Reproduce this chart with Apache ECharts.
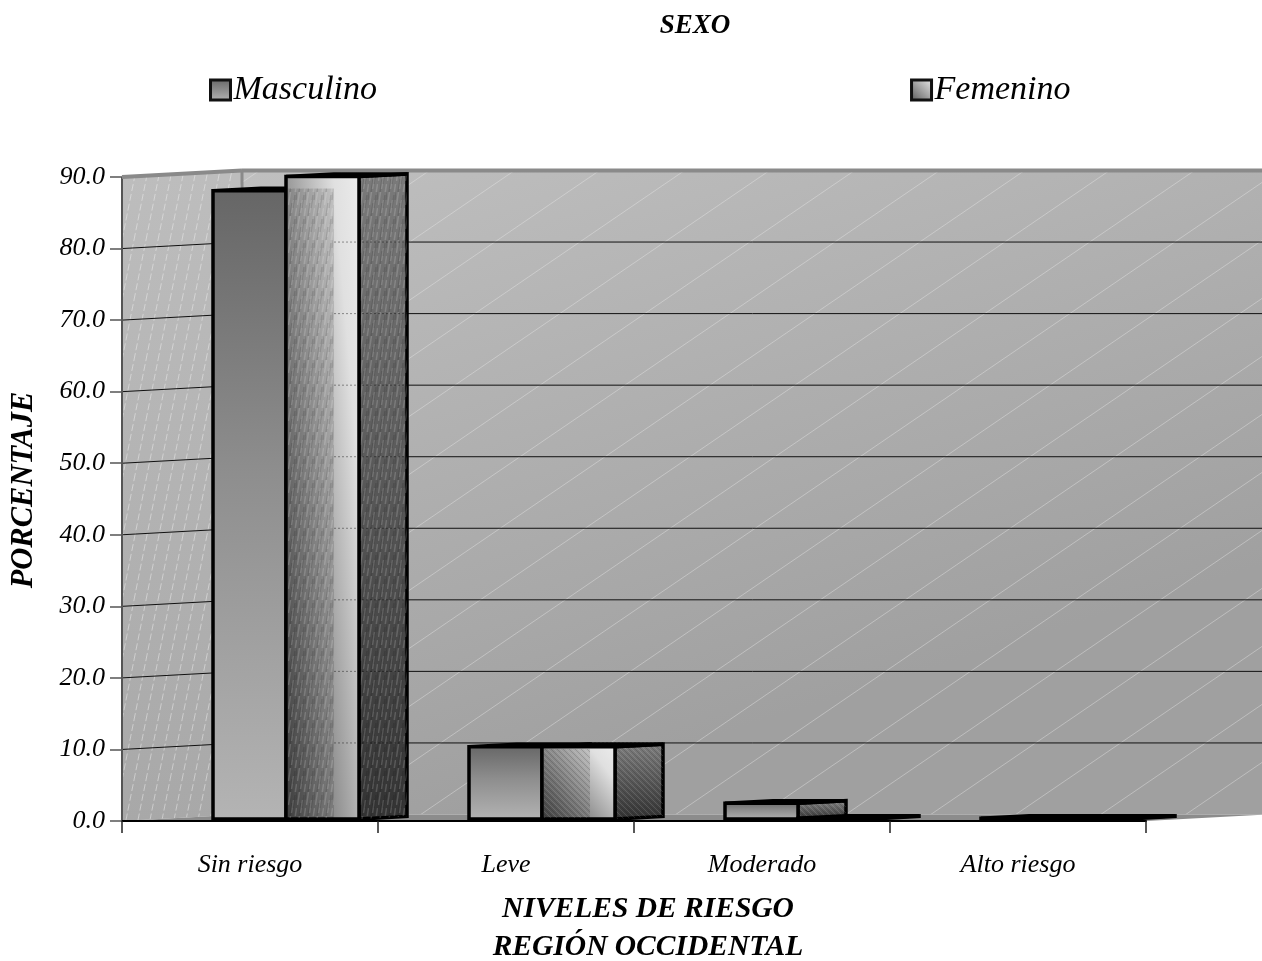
<!DOCTYPE html>
<html>
<head>
<meta charset="utf-8">
<style>html,body{margin:0;padding:0;background:#fff;overflow:hidden}#chart{width:1262px;height:961px}</style>
<script src="https://cdn.jsdelivr.net/npm/echarts@6/dist/echarts.min.js"></script>
</head>
<body>
<div id="chart"></div>
<script>
// Risk levels by sex, drawn as pseudo-3D clustered columns on a walled stage.
const categories = ['Sin riesgo', 'Leve', 'Moderado', 'Alto riesgo'];
const masculino = [87.8, 10.1, 2.2, 0.1];
const femenino = [89.8, 10.1, 0.1, 0.1];
const yTicks = [0, 10, 20, 30, 40, 50, 60, 70, 80, 90];

const FONT = '"Liberation Serif", "Times New Roman", serif';
// Oblique projection of the stage depth, in pixels.
const DEPTH_X = 120, DEPTH_Y = -6.5;
const BAR_DEPTH = 0.4, BAR_FRONT = 0.3, BAR_WIDTH = 73 / 256;

function tile(w, h, draw) {
  const c = document.createElement('canvas');
  c.width = w; c.height = h;
  draw(c.getContext('2d'));
  return { image: c, repeat: 'repeat' };
}
// Fine diagonal rules on the back wall.
const backRules = tile(85, 58, g => {
  g.strokeStyle = 'rgba(235,235,235,0.4)';
  g.lineWidth = 1;
  for (let k = -1; k <= 1; k++) {
    g.beginPath();
    g.moveTo(k * 85 + 80 - 85, 3 + 58);
    g.lineTo(k * 85 + 80 + 85, 3 - 58);
    g.stroke();
  }
});
// Steep broken rules on the side wall.
const sideRules = tile(12, 60, g => {
  g.strokeStyle = 'rgba(240,240,240,0.5)';
  g.lineWidth = 1;
  g.setLineDash([7, 3]);
  for (let k = -1; k <= 1; k++) {
    g.beginPath();
    g.moveTo(k * 12 + 2, 60);
    g.lineTo(k * 12 + 14, 0);
    g.stroke();
  }
});
// Woven grain used on tall faces.
const tallGrain = tile(9, 24, g => {
  g.lineWidth = 1.5;
  for (let i = 0; i < 3; i++) {
    g.strokeStyle = 'rgba(255,255,255,0.16)';
    g.beginPath(); g.moveTo(i * 3 + 0.5, 13 + (i * 8) % 24); g.lineTo(i * 3 + 2.5, (i * 8) % 24); g.stroke();
    g.strokeStyle = 'rgba(0,0,0,0.12)';
    g.beginPath(); g.moveTo(i * 3 + 2, 24 - (i * 8) % 24); g.lineTo(i * 3 + 4, 11 - (i * 8) % 24 + 0); g.stroke();
  }
});
// Diagonal hatch used on short faces.
const shortGrain = tile(6, 6, g => {
  g.lineWidth = 1;
  g.strokeStyle = 'rgba(0,0,0,0.14)';
  for (let k = -1; k <= 1; k++) {
    g.beginPath(); g.moveTo(k * 6, 0); g.lineTo(k * 6 + 6, 6); g.stroke();
  }
  g.strokeStyle = 'rgba(255,255,255,0.12)';
  for (let k = -1; k <= 1; k++) {
    g.beginPath(); g.moveTo(k * 6 + 3, 0); g.lineTo(k * 6 + 9, 6); g.stroke();
  }
});

const gray = v => { const c = Math.round(v * 255); return `rgb(${c},${c},${c})`; };
const linear = (x, y, x2, y2, stops, global) =>
  new echarts.graphic.LinearGradient(x, y, x2, y2, stops.map(s => ({ offset: s[0], color: s[1] })), global);

const mascFill = linear(0, 0, 0, 1, [[0, '#666'], [0.45, '#8e8e8e'], [1, '#b4b4b4']]);

// Gradient running from the lower left corner to the upper right one.
function femFill(x, y, w, h) {
  const a = 0.27, b = 0.5, c = 0.38;
  const dx = b / w, dy = c / Math.max(h, 1);
  const span = (b + c) / (dx * dx + dy * dy);
  return linear(x, y + h, x + dx * span, y + h - dy * span,
    [[0, gray(a)], [0.8, gray(0.88)], [1, gray(0.92)]], true);
}

// Back wall, side wall, floor and the rules that run across them.
function renderStage(params, api) {
  const grid = params.coordSys;
  const L = grid.x, R = grid.x + grid.width;
  const y0 = api.coord([0, 0])[1], yT = api.coord([0, 90])[1];
  const BL = L + DEPTH_X, BR = R + DEPTH_X;
  const children = [];
  const poly = (points, fill) => ({ type: 'polygon', shape: { points }, style: { fill } });
  const line = (x1, y1, x2, y2, stroke, lineWidth) => ({
    type: 'line', shape: { x1, y1, x2, y2 }, style: { stroke, lineWidth, fill: null }
  });
  const back = [[BL, yT + DEPTH_Y], [BR, yT + DEPTH_Y], [BR, y0 + DEPTH_Y], [BL, y0 + DEPTH_Y]];
  const side = [[L, yT], [BL, yT + DEPTH_Y], [BL, y0 + DEPTH_Y], [L, y0]];
  children.push(poly(back, linear(BL, yT, BL + 200, y0, [[0, '#bfbfbf'], [1, '#a0a0a0']], true)));
  children.push(poly(back, backRules));
  children.push(poly(side, linear(0, yT, 0, y0, [[0, '#bdbdbd'], [1, '#a8a8a8']], true)));
  children.push(poly(side, sideRules));
  children.push(poly([[L, y0], [BL, y0 + DEPTH_Y], [BR, y0 + DEPTH_Y], [R, y0]], '#8c8c8c'));
  yTicks.forEach(t => {
    if (t === 0 || t === 90) return;
    const y = api.coord([0, t])[1];
    children.push(line(L, y, BL, y + DEPTH_Y, '#111', 1));
    children.push(line(BL, y + DEPTH_Y, BR, y + DEPTH_Y, '#111', 1));
  });
  children.push(line(L, y0, L, yT, '#555', 2));
  children.push(line(BL, y0 + DEPTH_Y, BL, yT + DEPTH_Y, '#8a8a8a', 3));
  children.push(line(L, yT, BL, yT + DEPTH_Y, '#8a8a8a', 4));
  children.push(line(BL, yT + DEPTH_Y, BR, yT + DEPTH_Y, '#8a8a8a', 4));
  return { type: 'group', children, silent: true };
}

// One column: side and top faces, then the front face, offset inside its cluster.
function columnRenderer(slot, isFem) {
  return function (params, api) {
    const i = api.value(0), value = api.value(1);
    const top = api.coord([i, value]), base = api.coord([i, 0]);
    const band = api.size([1, 0])[0];
    const w = band * BAR_WIDTH;
    const fx = DEPTH_X * BAR_FRONT, fy = DEPTH_Y * BAR_FRONT;
    const dx = DEPTH_X * BAR_DEPTH, dy = DEPTH_Y * BAR_DEPTH;
    const x = top[0] + fx + slot * w;
    const yTop = top[1] + fy, yBase = base[1] + fy;
    const h = yBase - yTop;
    const edge = { stroke: '#000', lineWidth: 3.5, lineJoin: 'miter' };
    const sidePts = [[x + w, yTop], [x + w + dx, yTop + dy], [x + w + dx, yBase + dy], [x + w, yBase]];
    const grain = h > 200 ? tallGrain : shortGrain;
    const children = [];
    children.push({
      type: 'polygon', shape: { points: sidePts },
      style: Object.assign({
        fill: linear(0, yTop, 0, yBase, [[0, '#7a7a7a'], [1, '#333']], true)
      }, edge)
    });
    children.push({ type: 'polygon', shape: { points: sidePts }, style: { fill: grain } });
    children.push({
      type: 'polygon',
      shape: { points: [[x, yTop], [x + w, yTop], [x + w + dx, yTop + dy], [x + dx, yTop + dy]] },
      style: Object.assign({ fill: '#000' }, edge)
    });
    children.push({
      type: 'rect', shape: { x, y: yTop, width: w, height: h },
      style: Object.assign({ fill: isFem ? femFill(x, yTop, w, h) : mascFill }, edge)
    });
    if (isFem) {
      if (h > 10) {
        const inset = h * 0.017;
        const overlay = { x: x + 2, y: yTop + inset + 1, width: dx - 2, height: h - inset - 2 };
        children.push({ type: 'rect', shape: overlay, style: { fill: 'rgba(0,0,0,0.13)' } });
        children.push({ type: 'rect', shape: overlay, style: { fill: grain } });
      }
      // Wall rules faintly showing through the column.
      yTicks.forEach(t => {
        if (t <= 0 || t >= value) return;
        const y = api.coord([i, t])[1] + DEPTH_Y;
        children.push({
          type: 'line', shape: { x1: x + dx, y1: y, x2: x + w + dx, y2: y },
          style: { stroke: 'rgba(0,0,0,0.4)', lineWidth: 1, lineDash: [2, 2], fill: null }
        });
      });
    }
    return { type: 'group', children };
  };
}

const chart = echarts.init(document.getElementById('chart'), null, { renderer: 'canvas' });
chart.setOption({
  animation: false,
  backgroundColor: '#fff',
  textStyle: { fontFamily: FONT },
  title: {
    text: 'SEXO', left: 690, top: 8, textAlign: 'center',
    textStyle: { fontFamily: FONT, fontSize: 27, fontStyle: 'italic', fontWeight: 'bold', color: '#000' }
  },
  legend: {
    left: 209, top: 73, padding: 0, itemWidth: 20, itemHeight: 20, itemGap: 533,
    selectedMode: false,
    textStyle: { fontFamily: FONT, fontSize: 34, fontStyle: 'italic', color: '#000', padding: [4, 0, 0, -2] },
    data: [
      { name: 'Masculino', icon: 'rect', itemStyle: { color: linear(0, 0, 0, 1, [[0, '#666'], [1, '#b4b4b4']]), borderColor: '#111', borderWidth: 3 } },
      { name: 'Femenino', icon: 'rect', itemStyle: { color: linear(0, 1, 1, 0, [[0, '#555'], [1, '#eee']]), borderColor: '#111', borderWidth: 3 } }
    ]
  },
  grid: { left: 122, top: 177, width: 1024, height: 644, containLabel: false, outerBoundsMode: 'none' },
  xAxis: {
    type: 'category', data: categories, z: 5,
    axisLine: { show: true, lineStyle: { color: '#000', width: 2 } },
    axisTick: { show: true, length: 12, lineStyle: { color: '#222', width: 1.5 } },
    axisLabel: { fontFamily: FONT, fontSize: 26, fontStyle: 'italic', color: '#000', margin: 31 },
    name: 'NIVELES DE RIESGO\nREGIÓN OCCIDENTAL',
    nameLocation: 'middle', nameGap: 69,
    nameTextStyle: {
      fontFamily: FONT, fontSize: 29.5, fontStyle: 'italic', fontWeight: 'bold', color: '#000',
      lineHeight: 38, padding: [0, 0, 0, 28], verticalAlign: 'top'
    }
  },
  yAxis: {
    type: 'value', min: 0, max: 90, interval: 10, z: 5,
    axisLine: { show: false },
    splitLine: { show: false },
    axisTick: { show: true, length: 12, lineStyle: { color: '#555', width: 1.5 } },
    axisLabel: {
      fontFamily: FONT, fontSize: 26, fontStyle: 'italic', color: '#000', margin: 17,
      formatter: v => v.toFixed(1)
    },
    name: 'PORCENTAJE', nameLocation: 'middle', nameRotate: 90, nameGap: 83,
    nameTextStyle: {
      fontFamily: FONT, fontSize: 30.5, fontStyle: 'italic', fontWeight: 'bold', color: '#000',
      padding: [0, 0, 0, 18]
    }
  },
  tooltip: { show: false },
  series: [
    { type: 'custom', name: 'stage', silent: true, z: 1, clip: false, data: [[0, 0]], renderItem: renderStage, encode: { x: 0, y: 1 } },
    { type: 'custom', name: 'Masculino', z: 2, clip: false, data: categories.map((c, i) => [i, masculino[i]]), renderItem: columnRenderer(-1, false), encode: { x: 0, y: 1 } },
    { type: 'custom', name: 'Femenino', z: 3, clip: false, data: categories.map((c, i) => [i, femenino[i]]), renderItem: columnRenderer(0, true), encode: { x: 0, y: 1 } }
  ]
});
</script>
</body>
</html>
